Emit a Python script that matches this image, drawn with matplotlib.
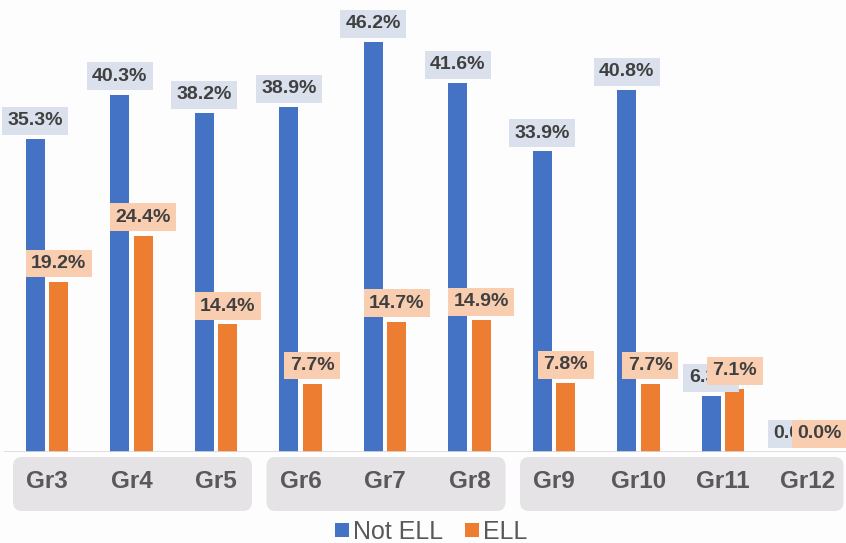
import matplotlib
matplotlib.use('Agg')
import matplotlib.pyplot as plt
from matplotlib.patches import FancyBboxPatch
import numpy as np

plt.rcParams['font.family'] = ['Liberation Sans', 'DejaVu Sans']

# data
grades = ['Gr3', 'Gr4', 'Gr5', 'Gr6', 'Gr7', 'Gr8', 'Gr9', 'Gr10', 'Gr11', 'Gr12']
not_ell = [35.3, 40.3, 38.2, 38.9, 46.2, 41.6, 33.9, 40.8, 6.3, 0.0]
ell = [19.2, 24.4, 14.4, 7.7, 14.7, 14.9, 7.8, 7.7, 7.1, 0.0]
groups = [(0, 2), (3, 5), (6, 9)]  # grey boxes behind the tick labels

BLUE = '#4472c4'
ORANGE = '#ed7d31'
BLUE_LBL = '#dae1ed'
ORANGE_LBL = '#f9cdb0'
TXT = '#404040'
GREY = '#595959'

fig = plt.figure(figsize=(8.46, 5.43), dpi=100, facecolor='#fefdfe')
# axes in pixel terms: baseline at y=452 from top, top of axes at y=0
ax = fig.add_axes([0, 1 - 452 / 543, 1, 452 / 543])
ax.set_facecolor('none')
ax.set_zorder(2)

x = np.arange(len(grades))
step = 84.5  # px per category
w = 19 / step
off = 11.75 / step
ax.set_xlim(-47 / step, (846 - 47) / step)
ax.set_ylim(0, 452 / 8.87)

b1 = ax.bar(x - off, not_ell, w, color=BLUE, label='Not ELL', zorder=2)
b2 = ax.bar(x + off, ell, w, color=ORANGE, label='ELL', zorder=2)

# value labels with filled boxes
for i in range(len(grades)):
    ax.annotate('%.1f%%' % not_ell[i], xy=(x[i] - off, not_ell[i]), xytext=(0, 7),
                textcoords='offset points', ha='center', va='bottom',
                fontsize=14, fontweight='bold', color=TXT, zorder=4,
                bbox=dict(boxstyle='square,pad=0.28', fc=BLUE_LBL, ec='none'))
for i in range(len(grades)):
    ax.annotate('%.1f%%' % ell[i], xy=(x[i] + off, ell[i]), xytext=(0, 7),
                textcoords='offset points', ha='center', va='bottom',
                fontsize=14, fontweight='bold', color=TXT, zorder=5,
                bbox=dict(boxstyle='square,pad=0.28', fc=ORANGE_LBL, ec='none'))

for s in ax.spines.values():
    s.set_visible(False)
ax.axhline(0, xmin=5 / 846, color='#d9d9d9', lw=1.2, zorder=3)
ax.set_yticks([])
ax.set_xticks(x)
ax.set_xticklabels(grades, fontsize=17.5, fontweight='bold', color=GREY)
ax.tick_params(axis='x', length=0, pad=13)

# grey rounded boxes behind the category labels (drawn in inches)
fig.canvas.draw()
for g0, g1 in groups:
    x0 = ax.transData.transform((g0, 0))[0] - 34
    x1 = ax.transData.transform((g1, 0))[0] + 36
    y0 = 543 - 511
    y1 = 543 - 457
    p = FancyBboxPatch((x0 / 100, y0 / 100), (x1 - x0) / 100, (y1 - y0) / 100,
                       boxstyle='round,pad=0,rounding_size=0.09',
                       transform=fig.dpi_scale_trans, fc='#e5e3e5', ec='none', zorder=-1)
    fig.patches.append(p)

fig.legend(handles=[b1, b2], loc='center', bbox_to_anchor=(431 / 846, 1 - 532 / 543),
           ncol=2, frameon=False, fontsize=18, labelcolor=GREY,
           handlelength=0.55, handleheight=0.5, handletextpad=0.15, columnspacing=0.9)

fig.savefig('out.png', dpi=100, facecolor=fig.get_facecolor())
